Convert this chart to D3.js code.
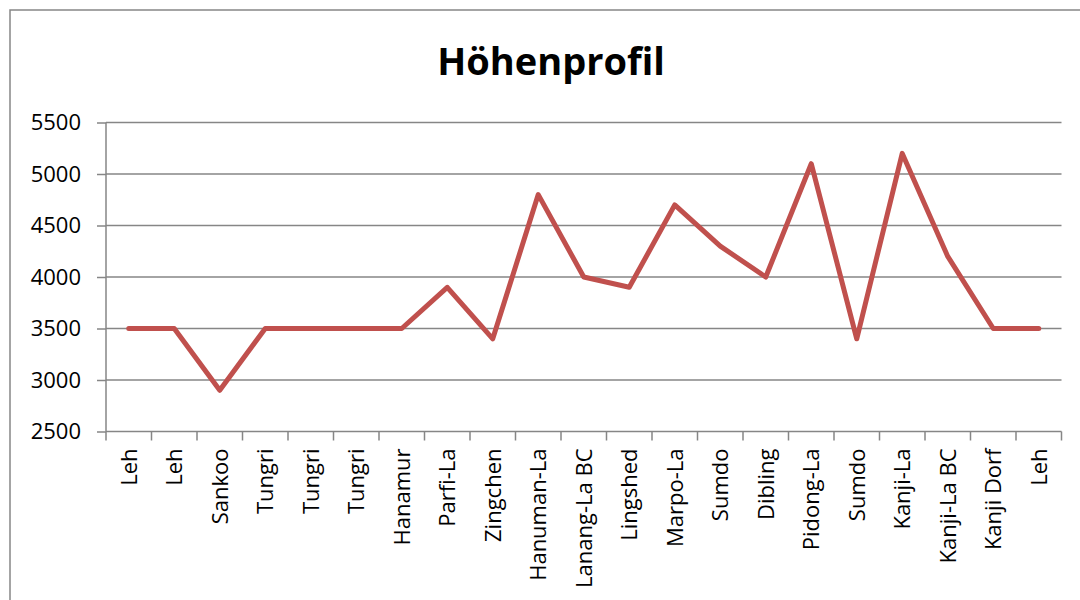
<!DOCTYPE html>
<html>
<head>
<meta charset="utf-8">
<script src="https://cdn.jsdelivr.net/npm/d3@7"></script>
<style>
	body { margin: 0; background: #fff; }
	svg { display: block; font-family: "Open Sans", sans-serif; }
	.axis text { font-family: "Open Sans", sans-serif; font-size: 22px; fill: #000; }
	.axis path, .axis line { stroke: #868686; stroke-width: 1.5px; }
</style>
</head>
<body>
<div id="graph"></div>
<script>
const places = ["Leh", "Leh", "Sankoo", "Tungri", "Tungri", "Tungri", "Hanamur", "Parfi-La", "Zingchen",
	"Hanuman-La", "Lanang-La BC", "Lingshed", "Marpo-La", "Sumdo", "Dibling", "Pidong-La", "Sumdo",
	"Kanji-La", "Kanji-La BC", "Kanji Dorf", "Leh"];
const heights = [3500, 3500, 2900, 3500, 3500, 3500, 3500, 3900, 3400, 4800, 4000, 3900, 4700, 4300,
	4000, 5100, 3400, 5200, 4200, 3500, 3500];
const yTicks = [2500, 3000, 3500, 4000, 4500, 5000, 5500];

const W = 1080, H = 600;
const margin = {top: 122.5, right: 18.5, bottom: 168.5, left: 106},
	width = W - margin.left - margin.right,
	height = H - margin.top - margin.bottom;

const data = places.map((p, i) => ({key: i, name: p, h: heights[i]}));

const svg = d3.select("#graph").append("svg")
	.attr("width", W)
	.attr("height", H);

// outer chart frame
svg.append("rect")
	.attr("x", 10).attr("y", 10)
	.attr("width", W + 20).attr("height", H + 20)
	.attr("fill", "none")
	.attr("stroke", "#868686")
	.attr("stroke-width", 1.5);

svg.append("text")
	.attr("x", 551)
	.attr("y", 75)
	.attr("text-anchor", "middle")
	.style("font-size", "38px")
	.style("font-weight", "bold")
	.text("Höhenprofil");

const g = svg.append("g")
	.attr("transform", "translate(" + margin.left + "," + margin.top + ")");

const xScale = d3.scaleBand()
	.domain(data.map(d => d.key))
	.range([0, width]);

const yScale = d3.scaleLinear()
	.domain([2500, 5500])
	.range([height, 0]);

// gridlines
g.append("g")
	.selectAll("line")
	.data(yTicks.slice(1))
	.enter().append("line")
	.attr("x1", 0).attr("x2", width)
	.attr("y1", d => yScale(d)).attr("y2", d => yScale(d))
	.attr("stroke", "#868686")
	.attr("stroke-width", 1.5);

const yAxis = d3.axisLeft(yScale).tickValues(yTicks).tickFormat(d3.format("d")).tickSize(9).tickPadding(16);
g.append("g")
	.attr("class", "axis")
	.call(yAxis)
	.call(a => a.select(".domain").attr("d", "M0," + height + "V0"));

// category axis: ticks on band edges
const edges = d3.range(places.length + 1).map(i => i * xScale.step());
const xAxisG = g.append("g")
	.attr("class", "axis")
	.attr("transform", "translate(0," + height + ")");
xAxisG.append("line")
	.attr("x1", 0).attr("x2", width)
	.attr("stroke", "#868686").attr("stroke-width", 1.5);
xAxisG.selectAll(".tk")
	.data(edges)
	.enter().append("line")
	.attr("class", "tk")
	.attr("x1", d => d).attr("x2", d => d)
	.attr("y1", 0).attr("y2", 9);
xAxisG.selectAll(".lbl")
	.data(data)
	.enter().append("text")
	.attr("class", "lbl")
	.attr("transform", d => "translate(" + (xScale(d.key) + xScale.bandwidth() / 2 + 8) + ",17) rotate(-90)")
	.attr("text-anchor", "end")
	.text(d => d.name);

const line = d3.line()
	.x(d => xScale(d.key) + xScale.bandwidth() / 2)
	.y(d => yScale(d.h));

g.append("path")
	.datum(data)
	.attr("d", line)
	.attr("fill", "none")
	.attr("stroke", "#C0504D")
	.attr("stroke-width", 5)
	.attr("stroke-linejoin", "round")
	.attr("stroke-linecap", "round");
</script>
</body>
</html>
